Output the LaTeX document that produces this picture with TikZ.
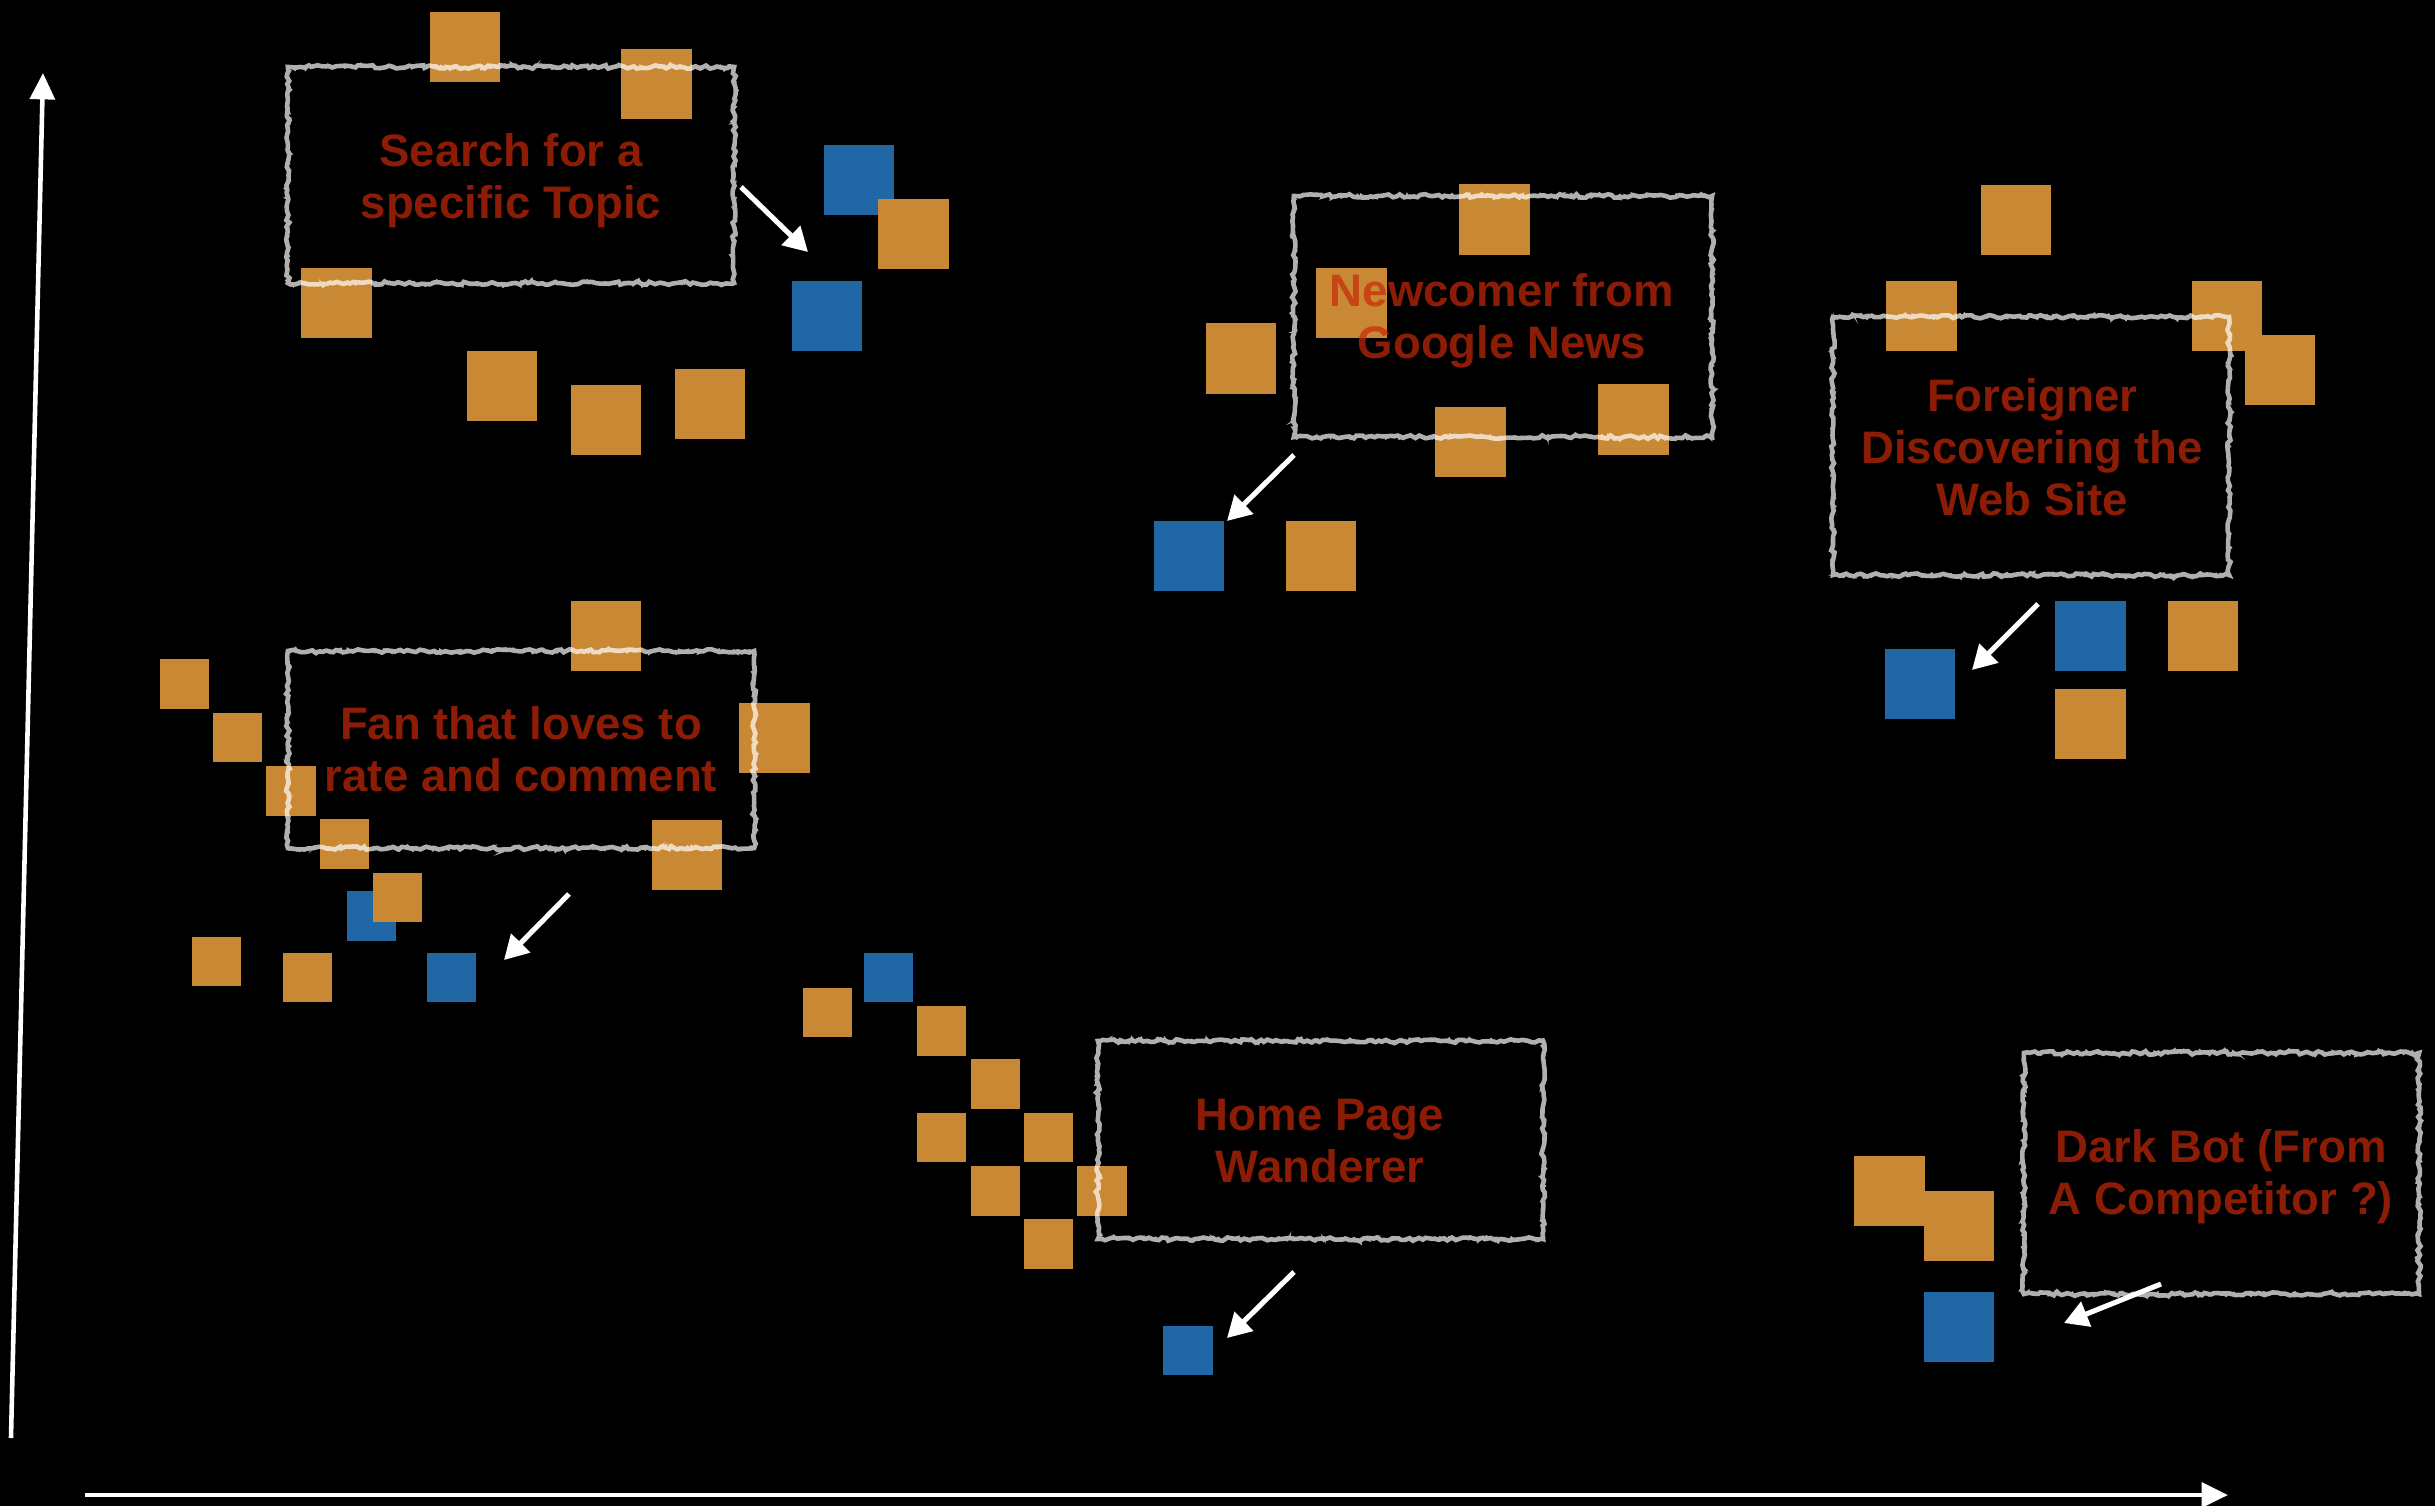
\documentclass[tikz,border=0pt]{standalone}
\usepackage{fontspec}
\setmainfont{Liberation Sans}
\usetikzlibrary{arrows.meta,decorations.pathmorphing}

\definecolor{cardorange}{RGB}{201,136,52}
\definecolor{cardblue}{RGB}{33,103,165}
\definecolor{chalkgrey}{RGB}{176,176,176}
\definecolor{personared}{RGB}{200,40,8}

\tikzset{
  card/.style={inner sep=0pt, outer sep=0pt, draw=none, minimum size=0.7cm},
  smallcard/.style={minimum size=0.49cm},
  ocard/.style={card, fill=cardorange},
  bcard/.style={card, fill=cardblue},
  chalkbox/.style={draw=chalkgrey, line width=1.3pt, inner sep=0pt,
    decorate, decoration={random steps, segment length=1.2pt, amplitude=0.5pt},
    postaction={draw=chalkgrey, line width=0.55pt, decorate,
      decoration={random steps, segment length=0.8pt, amplitude=0.85pt}}},
  persona/.style={text=personared, text opacity=0.7,
    font=\fontsize{12.95}{14.8}\selectfont\bfseries, align=center, inner sep=0pt},
  pointer/.style={draw=white, line width=1.45pt, -{Triangle[width=7.4pt,length=6.8pt]}},
  axis/.style={draw=white, line width=1.3pt, -{Triangle[width=7pt,length=7.5pt]}},
}

\begin{document}
\begin{tikzpicture}[x=0.01cm, y=-0.01cm]
  % canvas
  \fill[black] (0,0) rectangle (2435,1506);
  \useasboundingbox (0,0) rectangle (2435,1506);

  % ---- cards: topic searchers
  \node[ocard] (t1) at (465,47) {};
  \node[ocard] (t2) at (656.5,84) {};
  \node[ocard] (t3) at (336.5,303) {};
  \node[ocard] (t4) at (502,386) {};
  \node[ocard] (t5) at (606,420) {};
  \node[ocard] (t6) at (710,404) {};
  \node[bcard] (t7) at (859,180) {};
  \node[ocard] (t8) at (913.5,234) {};
  \node[bcard] (t9) at (827,316) {};

  % ---- cards: newcomers
  \node[ocard] (n1) at (1494.5,219.5) {};
  \node[ocard] (n2) at (1351.5,303) {};
  \node[ocard] (n3) at (1241,358.5) {};
  \node[ocard] (n4) at (1470.5,442) {};
  \node[ocard] (n5) at (1633.5,419.5) {};
  \node[bcard] (n6) at (1189,556) {};
  \node[ocard] (n7) at (1321,556) {};

  % ---- cards: foreigners
  \node[ocard] (f1) at (2016,220) {};
  \node[ocard] (f2) at (1921.5,316) {};
  \node[ocard] (f3) at (2227,316) {};
  \node[ocard] (f4) at (2280,370) {};
  \node[bcard] (f5) at (1920,684) {};
  \node[bcard] (f6) at (2090.5,636) {};
  \node[ocard] (f7) at (2203,636) {};
  \node[ocard] (f8) at (2090.5,724) {};

  % ---- cards: fans
  \node[ocard,smallcard] (a1) at (184.5,684) {};
  \node[ocard,smallcard] (a2) at (237.5,737.5) {};
  \node[ocard,smallcard] (a3) at (291,791) {};
  \node[ocard,smallcard] (a4) at (344.5,844) {};
  \node[bcard,smallcard] (a5) at (371.5,916) {};
  \node[ocard,smallcard] (a6) at (397.5,897.5) {};
  \node[ocard,smallcard] (a7) at (216.5,961.5) {};
  \node[ocard,smallcard] (a8) at (307.5,977.5) {};
  \node[bcard,smallcard] (a9) at (451.5,977.5) {};
  \node[ocard] (a10) at (606,636) {};
  \node[ocard] (a11) at (774.5,738) {};
  \node[ocard] (a12) at (687,855) {};

  % ---- cards: home page wanderers
  \node[bcard,smallcard] (h1) at (888.5,977.5) {};
  \node[ocard,smallcard] (h2) at (827.5,1012.5) {};
  \node[ocard,smallcard] (h3) at (941.5,1031) {};
  \node[ocard,smallcard] (h4) at (995.5,1084) {};
  \node[ocard,smallcard] (h5) at (941.5,1137.5) {};
  \node[ocard,smallcard] (h6) at (1048.5,1137.5) {};
  \node[ocard,smallcard] (h7) at (995.5,1191) {};
  \node[ocard,smallcard] (h8) at (1102,1191) {};
  \node[ocard,smallcard] (h9) at (1048.5,1244) {};
  \node[bcard,smallcard] (h10) at (1188,1350.5) {};

  % ---- cards: bots
  \node[ocard] (d1) at (1889.5,1191) {};
  \node[ocard] (d2) at (1959,1226) {};
  \node[bcard] (d3) at (1959,1327) {};

  % ---- chalk frames: drawn as one group, then screened over the cards
  \begin{scope}[blend mode=screen]
    \begin{scope}[transparency group]
      \node[chalkbox, minimum width=4.46cm, minimum height=2.16cm] (topicbox) at (511,175) {};
      \node[chalkbox, minimum width=4.18cm, minimum height=2.41cm] (newsbox) at (1503,316.5) {};
      \node[chalkbox, minimum width=3.96cm, minimum height=2.58cm] (foreignbox) at (2031,446) {};
      \node[chalkbox, minimum width=4.66cm, minimum height=1.97cm] (fanbox) at (521,749.5) {};
      \node[chalkbox, minimum width=4.45cm, minimum height=1.98cm] (homebox) at (1320.5,1140) {};
      \node[chalkbox, minimum width=3.95cm, minimum height=2.41cm] (botbox) at (2221.5,1173.5) {};
    \end{scope}
  \end{scope}

  % ---- persona labels
  \node[persona] (topic) at (511,181) {Search for a\\specific Topic};
  \node[persona] (news) at (1502,321) {Newcomer from\\Google News};
  \node[persona] (foreign) at (2032,447.5) {Foreigner\\Discovering the\\Web Site};
  \node[persona] (fan) at (521,749.5) {Fan that loves to\\rate and comment};
  \node[persona] (home) at (1320,1141.5) {Home Page\\Wanderer};
  \node[persona] (bot) at (2221,1176.5) {Dark Bot (From\\A Competitor ?)};

  % ---- pointers to the highlighted visitor
  \coordinate (p1s) at (741,187);   \coordinate (p1e) at (808,252);
  \coordinate (p2s) at (1294,455);  \coordinate (p2e) at (1227,521);
  \coordinate (p3s) at (2038,604);  \coordinate (p3e) at (1972,670);
  \coordinate (p4s) at (569,894);   \coordinate (p4e) at (504,960);
  \coordinate (p5s) at (1294,1272); \coordinate (p5e) at (1227,1338);
  \coordinate (p6s) at (2161,1284); \coordinate (p6e) at (2064,1323);
  \draw[pointer] (p1s) -- (p1e);
  \draw[pointer] (p2s) -- (p2e);
  \draw[pointer] (p3s) -- (p3e);
  \draw[pointer] (p4s) -- (p4e);
  \draw[pointer] (p5s) -- (p5e);
  \draw[pointer] (p6s) -- (p6e);

  % ---- axes
  \coordinate (yfoot) at (11,1438);
  \coordinate (ytop) at (43,73);
  \coordinate (xfoot) at (85,1495);
  \coordinate (xtip) at (2228,1495);
  \draw[axis] (yfoot) -- (ytop);
  \draw[axis] (xfoot) -- (xtip);
\end{tikzpicture}
\end{document}
